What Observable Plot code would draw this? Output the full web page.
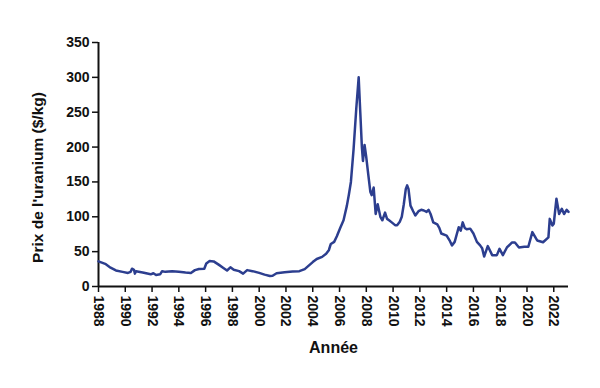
<!DOCTYPE html>
<html>
<head>
<meta charset="utf-8">
<script src="https://cdn.jsdelivr.net/npm/d3@7"></script>
<script src="https://cdn.jsdelivr.net/npm/@observablehq/plot@0.6"></script>
<style>
  html, body { margin: 0; padding: 0; background: #fff; }
  #chart { width: 600px; height: 388px; }
</style>
</head>
<body>
<div id="chart"></div>
<script>
const years = [
  1988.0, 1988.5, 1988.9, 1989.3, 1989.8, 1990.2, 1990.4, 1990.5, 1990.65, 1990.72,
  1990.8, 1991.3, 1991.9, 1992.1, 1992.3, 1992.6, 1992.75, 1993.0, 1993.5, 1994.0,
  1994.5, 1994.9, 1995.2, 1995.5, 1995.9, 1996.05, 1996.3, 1996.6, 1997.0, 1997.3,
  1997.6, 1997.85, 1998.1, 1998.5, 1998.8, 1999.1, 1999.5, 2000.0, 2000.4, 2000.8,
  2001.0, 2001.3, 2001.9, 2002.5, 2003.0, 2003.4, 2003.7, 2004.0, 2004.3, 2004.7,
  2005.0, 2005.2, 2005.35, 2005.6, 2005.8, 2006.05, 2006.3, 2006.55, 2006.7, 2006.85,
  2007.05, 2007.25, 2007.43, 2007.55, 2007.67, 2007.75, 2007.87, 2008.0, 2008.15, 2008.3,
  2008.4, 2008.55, 2008.7, 2008.85, 2009.05, 2009.2, 2009.4, 2009.55, 2009.7, 2009.9,
  2010.15, 2010.3, 2010.5, 2010.65, 2010.8, 2010.95, 2011.05, 2011.15, 2011.3, 2011.5,
  2011.66, 2011.9, 2012.1, 2012.3, 2012.5, 2012.65, 2012.8, 2013.0, 2013.3, 2013.45,
  2013.6, 2014.0, 2014.25, 2014.4, 2014.6, 2014.9, 2015.05, 2015.2, 2015.35, 2015.5,
  2015.76, 2016.0, 2016.26, 2016.5, 2016.65, 2016.8, 2017.07, 2017.4, 2017.75, 2017.95,
  2018.2, 2018.5, 2018.87, 2019.1, 2019.4, 2019.8, 2020.1, 2020.4, 2020.76, 2021.2,
  2021.6, 2021.7, 2021.9, 2022.0, 2022.2, 2022.4, 2022.6, 2022.77, 2022.96, 2023.1
];
const prices = [
  36, 32.5, 27, 23, 21, 19.5, 21, 25.5, 24, 18.5,
  22, 20, 17.5, 19, 16.5, 17.5, 22, 21, 22, 21,
  20, 19.5, 23.5, 25, 25.5, 33, 36.5, 36, 31, 27,
  23, 27.5, 24, 22, 18.5, 23.5, 22, 19.5, 17, 15,
  15.5, 19, 20.5, 21.5, 22, 25, 30, 35, 39.5, 42.5,
  47, 52, 61, 64, 72, 84, 95, 116, 132, 150,
  197, 255, 300, 250, 200, 180, 203, 185, 160, 136,
  131, 142, 104, 118, 100, 95, 106, 97, 95, 92,
  88, 88, 93, 100, 118, 140, 145, 140, 116, 108,
  102, 108, 110, 109, 107, 110, 104, 92, 89, 84,
  76, 73, 65, 59, 64, 85, 80, 92, 84, 82,
  83, 76, 64, 59, 55, 43, 58, 45, 45, 54,
  45, 56, 63, 63, 56, 57, 57, 78, 66, 63.5,
  70.5, 97, 87.5, 90, 126, 104, 111.5, 104, 110, 107
];
const xTicks = d3.range(1988, 2023, 2);
const yTicks = [0, 50, 100, 150, 200, 250, 300, 350];
const xTitle = "Année";
const yTitle = "Prix de l'uranium ($/kg)";

const data = years.map((y, i) => ({year: y, price: prices[i]}));

const chart = Plot.plot({
  width: 600,
  height: 388,
  marginLeft: 98,
  marginRight: 32,
  marginTop: 42,
  marginBottom: 102,
  style: {fontFamily: "'Liberation Sans', Arial, sans-serif", fontWeight: "bold", fontSize: "14px", color: "#111"},
  x: {domain: [1988, 2023.1]},
  y: {domain: [0, 350]},
  marks: [
    Plot.axisY({ticks: yTicks, tickSize: 6, tickPadding: 3, strokeWidth: 1.5, label: null}),
    Plot.axisX({ticks: xTicks, tickFormat: d => String(d), tickRotate: 90, tickSize: 6, tickPadding: 3, strokeWidth: 1.5, label: null}),
    Plot.text([yTitle], {frameAnchor: "left", textAnchor: "middle", dx: -60, dy: 13, rotate: -90, fontSize: 15.5, fontWeight: "bold", fill: "#111"}),
    Plot.text([xTitle], {frameAnchor: "bottom", dy: 66, fontSize: 16, fontWeight: "bold", fill: "#111"}),
    Plot.ruleX([1988], {stroke: "#111", strokeWidth: 2}),
    Plot.ruleY([0], {stroke: "#111", strokeWidth: 2}),
    Plot.lineY(data, {x: "year", y: "price", stroke: "#2c3e8f", strokeWidth: 2.5, curve: "linear"})
  ]
});
document.getElementById("chart").appendChild(chart);
</script>
</body>
</html>
